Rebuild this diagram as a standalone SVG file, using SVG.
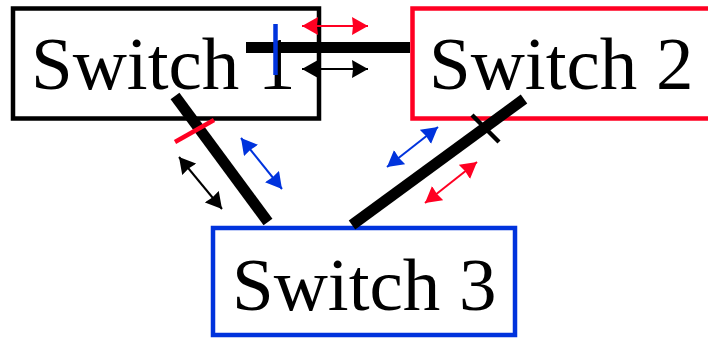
<svg xmlns="http://www.w3.org/2000/svg" width="708" height="338" viewBox="0 0 708 338">
<style>
.box{fill:#fff;stroke-width:4.5}
.lbl{font-family:"Liberation Serif","Times New Roman",serif;font-size:75px;fill:#000}
.link{stroke:#000;stroke-width:11;stroke-linecap:butt;fill:none}
.tick{stroke-width:4.5;fill:none}
.arr{stroke-width:2;fill:none}
</style>
<defs>
<marker id="mk" viewBox="0 0 16 18" markerWidth="16" markerHeight="18" refX="16" refY="9" orient="auto-start-reverse" markerUnits="userSpaceOnUse"><path d="M0,0 L16,9 L0,18 L1,9 z" fill="#000"/></marker>
<marker id="mr" viewBox="0 0 16 18" markerWidth="16" markerHeight="18" refX="16" refY="9" orient="auto-start-reverse" markerUnits="userSpaceOnUse"><path d="M0,0 L16,9 L0,18 L1,9 z" fill="#ff0022"/></marker>
<marker id="mb" viewBox="0 0 16 18" markerWidth="16" markerHeight="18" refX="16" refY="9" orient="auto-start-reverse" markerUnits="userSpaceOnUse"><path d="M0,0 L16,9 L0,18 L1,9 z" fill="#0033dd"/></marker>
</defs>
<g id="switch1"><rect class="box" x="13" y="8.5" width="306" height="110" stroke="#000"/><text class="lbl" x="31" y="89">Switch 1</text></g>
<g id="switch2"><rect class="box" x="412.5" y="8.5" width="310" height="110" stroke="#ff0022"/><text class="lbl" x="429" y="89">Switch 2</text></g>
<g id="switch3"><rect class="box" x="213" y="228" width="302" height="107" stroke="#0033dd"/><text class="lbl" x="232" y="310">Switch 3</text></g>
<g id="connectors">
<line class="link" x1="246" y1="47.5" x2="410" y2="47.5"/>
<line class="link" x1="175" y1="96" x2="268" y2="222"/>
<line class="link" x1="524" y1="99" x2="352" y2="225"/>
<line class="tick" x1="275.5" y1="24" x2="275.5" y2="75" stroke="#0033dd"/>
<line class="tick" x1="175" y1="142" x2="214" y2="120" stroke="#ff0022"/>
<line class="tick" x1="472" y1="115" x2="499" y2="142" stroke="#000"/>
<line class="arr" x1="302" y1="26" x2="368" y2="26" stroke="#ff0022" marker-start="url(#mr)" marker-end="url(#mr)"/>
<line class="arr" x1="302" y1="69" x2="368" y2="69" stroke="#000" marker-start="url(#mk)" marker-end="url(#mk)"/>
<line class="arr" x1="179" y1="157" x2="222" y2="209" stroke="#000" marker-start="url(#mk)" marker-end="url(#mk)"/>
<line class="arr" x1="241" y1="138" x2="282" y2="189" stroke="#0033dd" marker-start="url(#mb)" marker-end="url(#mb)"/>
<line class="arr" x1="438" y1="127" x2="387" y2="167" stroke="#0033dd" marker-start="url(#mb)" marker-end="url(#mb)"/>
<line class="arr" x1="477" y1="162" x2="425" y2="203" stroke="#ff0022" marker-start="url(#mr)" marker-end="url(#mr)"/>
</g>
</svg>
